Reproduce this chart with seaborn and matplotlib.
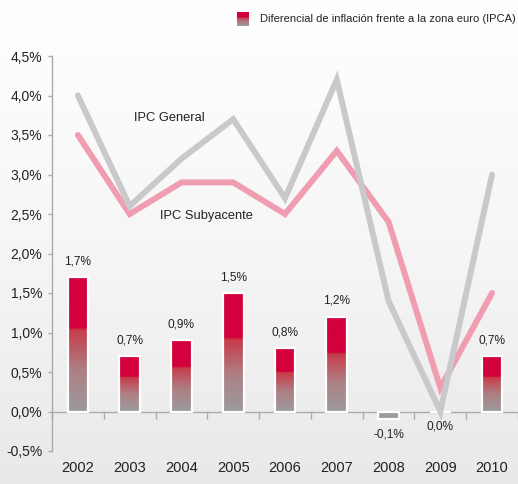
import numpy as np
import pandas as pd
import matplotlib
matplotlib.use('Agg')
import matplotlib.pyplot as plt
import matplotlib.transforms as mtransforms
from matplotlib.colors import LinearSegmentedColormap
import seaborn as sns

# ---- data ----
years = ['2002', '2003', '2004', '2005', '2006', '2007', '2008', '2009', '2010']
diferencial = [1.7, 0.7, 0.9, 1.5, 0.8, 1.2, -0.1, 0.0, 0.7]
ipc_general = [4.0, 2.6, 3.2, 3.7, 2.7, 4.2, 1.4, 0.0, 3.0]
ipc_subyacente = [3.5, 2.5, 2.9, 2.9, 2.5, 3.3, 2.4, 0.3, 1.5]
bar_labels = ['1,7%', '0,7%', '0,9%', '1,5%', '0,8%', '1,2%', '-0,1%', '0,0%', '0,7%']
yticks = [-0.5, 0.0, 0.5, 1.0, 1.5, 2.0, 2.5, 3.0, 3.5, 4.0, 4.5]
ytick_labels = ['-0,5%', '0,0%', '0,5%', '1,0%', '1,5%', '2,0%', '2,5%', '3,0%',
                '3,5%', '4,0%', '4,5%']
legend_label = 'Diferencial de inflación frente a la zona euro (IPCA)'
label_general = 'IPC General'
label_subyacente = 'IPC Subyacente'

df = pd.DataFrame({'year': years, 'dif': diferencial,
                   'gen': ipc_general, 'sub': ipc_subyacente})
df['pos'] = np.arange(len(df))

sns.set_theme(style='white')
plt.rcParams['font.family'] = ['Liberation Sans', 'DejaVu Sans']

W, H = 518, 484
fig = plt.figure(figsize=(W / 100, H / 100), dpi=100)

# background gradient
bg = fig.add_axes([0, 0, 1, 1], zorder=-10)
bg_cmap = LinearSegmentedColormap.from_list('bg', ['#e9e9e9', '#f6f6f6', '#ffffff'])
bg.imshow(np.linspace(0, 1, 256).reshape(-1, 1), cmap=bg_cmap, aspect='auto',
          origin='lower', extent=[0, 1, 0, 1])
bg.set_axis_off()

ax = fig.add_axes([52 / W, 1 - 451 / H, 466 / W, 395 / H])
ax.patch.set_alpha(0)

bar_cmap = LinearSegmentedColormap.from_list(
    'bar', [(0.0, '#9c9a9c'), (0.3, '#ad8085'), (0.6, '#c83c4a'),
            (0.62, '#d2003c'), (1.0, '#d2003c')])

sns.barplot(data=df, x='year', y='dif', width=0.4, color='#d2003c',
            edgecolor='white', linewidth=1.6, ax=ax, zorder=3)

grad = np.linspace(0, 1, 256).reshape(-1, 1)
for patch, val in zip(ax.patches, diferencial):
    x0 = patch.get_x()
    w = patch.get_width()
    y0 = patch.get_y()
    h = patch.get_height()
    lo, hi = min(y0, y0 + h), max(y0, y0 + h)
    data = grad if val > 0 else np.zeros_like(grad)
    im = ax.imshow(data, cmap=bar_cmap, vmin=0, vmax=1, aspect='auto',
                   origin='lower', extent=[x0, x0 + w, lo, hi], zorder=2,
                   interpolation='bilinear')
    im.set_clip_path(patch)
    patch.set_facecolor('none')

sns.lineplot(data=df, x='pos', y='sub', color='#f09db2', linewidth=4.3,
             ax=ax, zorder=4, solid_joinstyle='miter')
sns.lineplot(data=df, x='pos', y='gen', color='#c9c9cb', linewidth=4.3,
             ax=ax, zorder=5, solid_joinstyle='miter')

ax.set_xlim(-0.5, len(years) - 0.5)
ax.set_ylim(-0.5, 4.5)
ax.set_xlabel('')
ax.set_ylabel('')

# axes styling
for s in ['top', 'right']:
    ax.spines[s].set_visible(False)
ax.spines['left'].set_color('#aaaaaa')
ax.spines['left'].set_linewidth(1.0)
ax.spines['bottom'].set_position(('data', 0))
ax.spines['bottom'].set_color('#aaaaaa')
ax.spines['bottom'].set_linewidth(1.0)

ax.set_yticks(yticks)
ax.set_yticklabels(ytick_labels)
ax.tick_params(axis='y', which='major', left=True, length=3, width=1.0,
               color='#aaaaaa', pad=4, labelsize=10, labelcolor='#222222')

ax.set_xticks(np.arange(len(years) + 1) - 0.5)
ax.set_xticklabels([])
ax.tick_params(axis='x', which='major', bottom=True, direction='out', length=5,
               width=1.0, color='#aaaaaa')

trans = mtransforms.blended_transform_factory(ax.transData, ax.transAxes)
for i, yr in enumerate(years):
    ax.text(i, -0.043, yr, transform=trans, ha='center', va='center',
            fontsize=10.5, color='#222222')

# bar value labels
for i, (val, lab) in enumerate(zip(diferencial, bar_labels)):
    if val > 0:
        ax.annotate(lab, (i, val), xytext=(0, 11.5), textcoords='offset points',
                    ha='center', va='center', fontsize=8.6, color='#222222')
    else:
        ax.annotate(lab, (i, val), xytext=(0, -11), textcoords='offset points',
                    ha='center', va='center', fontsize=8.6, color='#222222')

# series labels
ax.text(1.08, ipc_general[1] + 1.12, label_general, fontsize=9.3, color='#222222',
        ha='left', va='center', zorder=6)
ax.text(1.58, ipc_subyacente[1] - 0.02, label_subyacente, fontsize=9.3,
        color='#222222', ha='left', va='center', zorder=6)

# legend
lax = fig.add_axes([237 / W, 1 - 26 / H, 12 / W, 14 / H])
lax.imshow(grad, cmap=bar_cmap, vmin=0, vmax=1, aspect='auto', origin='lower',
           extent=[0, 1, 0, 1], interpolation='bilinear')
lax.set_axis_off()
fig.text(260 / W, 1 - 19 / H, legend_label, fontsize=8, color='#222222',
         ha='left', va='center')

fig.savefig('out.png', dpi=100)
